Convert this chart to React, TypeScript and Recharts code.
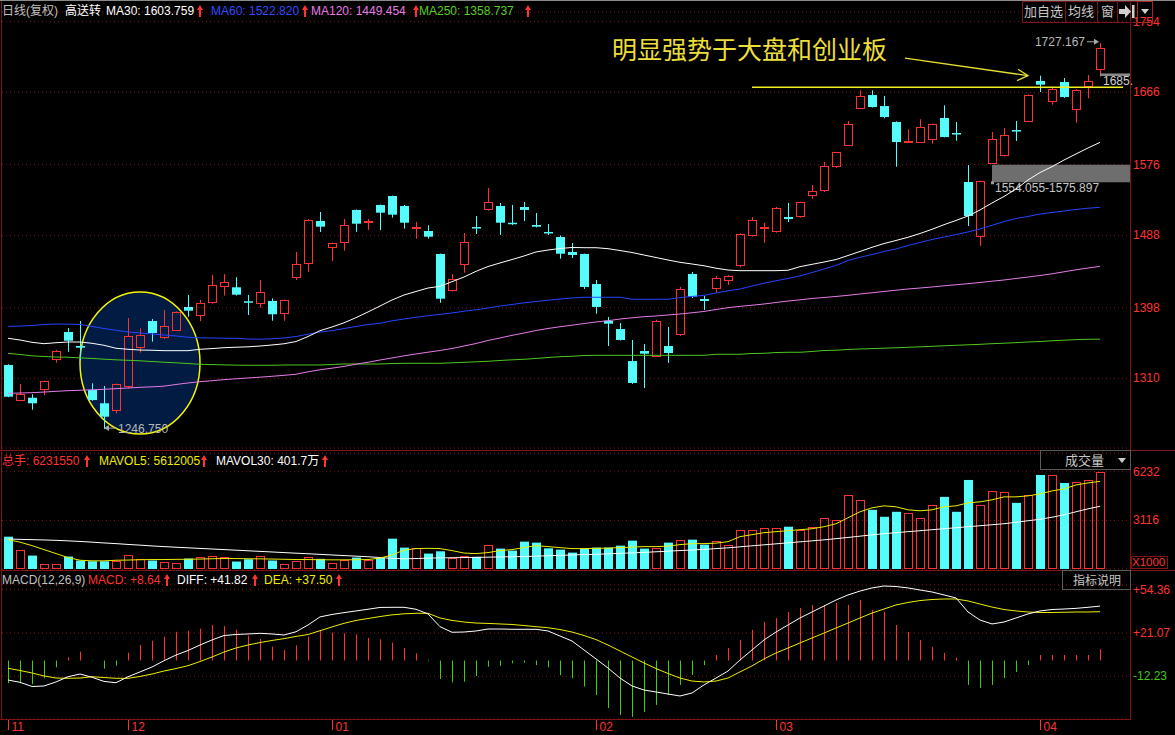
import React from "react";
import {
  ComposedChart,
  Bar,
  Line,
  XAxis,
  YAxis,
  CartesianGrid,
  ReferenceDot,
  ReferenceLine,
  ReferenceArea,
} from "recharts";

// 月份刻度（K线序号）
const monthStarts = [0, 10, 27, 49, 64, 86];
const monthLabels = ["11", "12", "01", "02", "03", "04"];

// 日K线 开高低收
const opens = [
  1326.6, 1282.6, 1285.8, 1295.8, 1333.7, 1367.7, 1350.2, 1295.4, 1278.9, 1269.7,
  1299.5, 1348.1, 1381.3, 1360.5, 1370.5, 1398.8, 1388.0, 1405.0, 1424.1, 1423.3,
  1405.9, 1403.4, 1406.3, 1390.9, 1435.3, 1453.9, 1505.9, 1473.1, 1479.3, 1519.6,
  1504.2, 1525.8, 1537.0, 1524.5, 1497.1, 1493.4, 1464.8, 1419.1, 1452.7, 1498.4,
  1520.4, 1524.5, 1503.7, 1523.3, 1500.9, 1492.2, 1485.9, 1467.3, 1464.8, 1427.4,
  1381.7, 1371.4, 1331.5, 1344.0, 1337.8, 1350.2, 1364.3, 1439.9, 1408.7, 1421.6,
  1432.0, 1451.4, 1487.5, 1497.1, 1492.5, 1510.8, 1511.2, 1537.4, 1544.8, 1573.5,
  1599.6, 1645.7, 1662.7, 1649.0, 1629.1, 1604.2, 1603.8, 1607.6, 1634.1, 1615.4,
  1554.4, 1486.3, 1578.4, 1588.0, 1619.1, 1630.0, 1680.2, 1654.9, 1678.9, 1645.7,
  1673.1, 1694.7,
];
const highs = [
  1327.5, 1302.9, 1290.1, 1307.0, 1345.6, 1372.6, 1381.3, 1303.8, 1300.4, 1303.5,
  1385.1, 1372.2, 1383.8, 1395.0, 1393.3, 1413.7, 1407.5, 1438.6, 1439.8, 1435.8,
  1413.7, 1432.4, 1409.6, 1408.0, 1467.3, 1508.3, 1517.1, 1479.0, 1508.3, 1520.2,
  1508.3, 1526.3, 1537.5, 1525.8, 1504.6, 1500.5, 1465.3, 1439.8, 1490.9, 1512.1,
  1546.9, 1528.3, 1525.8, 1529.5, 1515.8, 1502.1, 1488.0, 1478.4, 1465.3, 1432.4,
  1386.3, 1378.8, 1357.7, 1352.7, 1383.0, 1373.9, 1423.7, 1442.4, 1412.5, 1437.4,
  1438.6, 1490.5, 1510.8, 1503.4, 1523.3, 1528.3, 1530.0, 1550.7, 1579.3, 1592.0,
  1630.4, 1668.6, 1668.6, 1661.5, 1630.0, 1620.0, 1632.5, 1627.0, 1649.9, 1629.1,
  1575.6, 1556.0, 1616.7, 1621.6, 1630.4, 1663.5, 1686.8, 1672.3, 1683.9, 1669.8,
  1687.6, 1727.167,
];
const lows = [
  1286.5, 1281.5, 1270.9, 1289.2, 1329.4, 1343.1, 1332.8, 1282.0, 1246.75, 1266.4,
  1297.5, 1341.9, 1355.6, 1358.9, 1368.9, 1386.7, 1381.3, 1402.9, 1413.0, 1413.0,
  1388.8, 1397.9, 1381.7, 1381.7, 1432.4, 1442.7, 1492.2, 1456.4, 1468.9, 1492.5,
  1494.6, 1494.6, 1510.0, 1496.3, 1483.8, 1483.8, 1404.1, 1418.0, 1441.5, 1489.7,
  1518.7, 1488.4, 1500.9, 1505.8, 1498.0, 1488.4, 1458.9, 1459.8, 1421.2, 1390.4,
  1350.2, 1357.0, 1303.0, 1297.9, 1336.5, 1329.1, 1362.7, 1410.0, 1395.0, 1416.6,
  1426.2, 1448.2, 1486.3, 1478.8, 1491.3, 1504.6, 1510.0, 1533.6, 1541.9, 1572.0,
  1599.0, 1645.0, 1647.0, 1633.7, 1573.5, 1604.0, 1603.0, 1602.1, 1610.0, 1605.8,
  1499.6, 1474.7, 1578.0, 1585.9, 1605.5, 1629.0, 1666.4, 1650.7, 1659.0, 1628.3,
  1658.6, 1685.5,
];
const closes = [
  1287.1, 1290.1, 1278.9, 1306.3, 1343.6, 1356.8, 1348.1, 1282.9, 1262.2, 1302.5,
  1362.3, 1363.5, 1366.4, 1374.7, 1392.6, 1394.2, 1403.4, 1425.8, 1429.5, 1414.1,
  1404.1, 1417.1, 1389.7, 1407.1, 1451.9, 1507.1, 1498.8, 1478.1, 1500.5, 1502.5,
  1505.9, 1516.2, 1513.7, 1503.7, 1498.0, 1486.3, 1409.1, 1433.3, 1479.7, 1497.5,
  1529.1, 1503.7, 1502.5, 1519.6, 1498.8, 1490.9, 1465.1, 1463.5, 1423.7, 1398.8,
  1378.0, 1357.7, 1304.2, 1340.6, 1381.0, 1341.5, 1420.8, 1411.6, 1406.3, 1434.5,
  1437.0, 1489.7, 1506.7, 1498.4, 1521.7, 1508.3, 1529.1, 1542.8, 1574.3, 1591.4,
  1626.3, 1661.1, 1647.8, 1635.3, 1604.2, 1605.5, 1622.5, 1626.3, 1610.4, 1614.5,
  1512.1, 1555.3, 1607.9, 1612.5, 1618.3, 1662.7, 1675.6, 1669.8, 1660.2, 1668.9,
  1679.8, 1720.9,
];

// 均线
const ma30 = [
  1359.8, 1357.7, 1354.8, 1353.1, 1354.3, 1355.2, 1355.2, 1353.6, 1351.1, 1347.4,
  1346.1, 1345.2, 1344.9, 1344.4, 1344.4, 1344.4, 1346.1, 1347.0, 1348.1, 1348.7,
  1349.2, 1350.2, 1351.5, 1353.0, 1355.8, 1362.0, 1369.3, 1373.9, 1379.1, 1385.5,
  1392.6, 1400.0, 1407.5, 1413.7, 1418.1, 1422.4, 1424.5, 1430.3, 1436.1, 1443.2,
  1449.2, 1453.6, 1457.9, 1462.3, 1467.3, 1469.7, 1471.6, 1472.9, 1472.6, 1472.6,
  1471.4, 1469.1, 1466.6, 1463.5, 1460.4, 1457.3, 1454.4, 1452.3, 1450.1, 1447.1,
  1444.8, 1444.0, 1444.0, 1444.0, 1444.0, 1444.5, 1449.0, 1451.9, 1454.8, 1457.9,
  1462.9, 1467.9, 1473.1, 1477.8, 1481.6, 1485.6, 1490.3, 1495.5, 1501.3, 1506.5,
  1512.1, 1519.6, 1528.3, 1536.4, 1545.7, 1556.9, 1566.2, 1573.5, 1581.8, 1589.3,
  1596.8, 1603.759,
];
const ma60 = [
  1374.7, 1375.1, 1375.7, 1377.0, 1377.6, 1377.4, 1377.0, 1374.5, 1372.0, 1369.8,
  1367.7, 1366.4, 1365.2, 1363.9, 1362.7, 1361.1, 1360.4, 1360.2, 1359.9, 1359.8,
  1358.9, 1358.7, 1359.2, 1360.2, 1362.0, 1364.9, 1367.7, 1369.3, 1372.0, 1374.5,
  1377.0, 1378.5, 1381.6, 1383.8, 1386.1, 1387.9, 1389.7, 1391.3, 1393.5, 1395.4,
  1397.5, 1400.0, 1401.9, 1404.0, 1405.6, 1407.2, 1408.7, 1410.0, 1410.9, 1410.9,
  1410.9, 1410.9, 1408.4, 1408.4, 1408.4, 1408.4, 1410.4, 1411.9, 1413.3, 1416.2,
  1418.9, 1421.2, 1424.9, 1428.4, 1431.4, 1434.3, 1437.4, 1441.7, 1446.1, 1450.5,
  1456.7, 1460.7, 1464.1, 1467.9, 1471.0, 1475.4, 1479.1, 1482.8, 1485.9, 1489.0,
  1492.2, 1495.9, 1500.5, 1505.0, 1509.0, 1511.5, 1514.6, 1516.4, 1518.3, 1520.2,
  1521.8, 1522.82,
];
const ma120 = [
  1291.3, 1291.7, 1292.1, 1292.9, 1293.8, 1294.6, 1295.1, 1295.7, 1296.3, 1297.1,
  1297.9, 1298.8, 1299.4, 1300.2, 1302.3, 1304.2, 1305.8, 1307.0, 1308.3, 1309.4,
  1310.4, 1311.4, 1312.5, 1313.7, 1315.0, 1318.1, 1320.6, 1322.6, 1324.8, 1327.6,
  1330.0, 1332.8, 1335.3, 1338.0, 1340.3, 1342.5, 1344.6, 1347.1, 1350.2, 1353.3,
  1357.1, 1360.2, 1363.5, 1366.4, 1369.5, 1372.0, 1374.2, 1376.1, 1378.2, 1380.1,
  1381.7, 1383.8, 1385.3, 1386.7, 1387.6, 1388.8, 1390.1, 1391.6, 1393.2, 1395.7,
  1397.9, 1399.6, 1401.0, 1402.5, 1404.4, 1406.2, 1407.7, 1409.4, 1410.6, 1411.9,
  1413.3, 1415.0, 1416.5, 1418.1, 1419.7, 1421.2, 1422.4, 1423.7, 1425.2, 1426.5,
  1427.8, 1429.3, 1430.9, 1432.4, 1434.3, 1436.1, 1438.0, 1440.1, 1442.6, 1445.1,
  1447.3, 1449.454,
];
const ma250 = [
  1341.1, 1339.6, 1338.0, 1337.1, 1336.5, 1336.2, 1335.5, 1334.7, 1333.8, 1333.0,
  1332.4, 1331.8, 1330.9, 1330.0, 1329.3, 1328.4, 1327.4, 1327.1, 1326.7, 1326.4,
  1326.2, 1326.2, 1326.2, 1326.6, 1326.6, 1326.6, 1326.6, 1327.2, 1327.8, 1327.8,
  1327.8, 1327.8, 1328.4, 1328.7, 1328.7, 1328.7, 1328.7, 1329.3, 1329.9, 1330.5,
  1331.2, 1332.2, 1333.0, 1333.7, 1334.7, 1335.9, 1336.9, 1337.4, 1338.4, 1338.6,
  1338.6, 1338.6, 1338.6, 1338.6, 1338.6, 1338.6, 1338.6, 1338.6, 1338.6, 1339.9,
  1339.9, 1339.9, 1340.9, 1341.1, 1342.1, 1342.4, 1342.4, 1343.4, 1344.6, 1344.9,
  1345.9, 1346.5, 1347.0, 1347.5, 1348.0, 1348.6, 1349.2, 1349.8, 1350.5, 1351.1,
  1351.7, 1352.3, 1353.1, 1353.7, 1354.4, 1355.2, 1355.8, 1356.7, 1357.4, 1358.2,
  1358.6, 1358.737,
];

// 成交量（千手）
const volumes = [
  2071, 1243, 860, 331, 331, 797, 542, 497, 497, 542,
  905, 650, 542, 459, 395, 669, 777, 841, 777, 478,
  624, 841, 542, 331, 542, 797, 650, 395, 605, 733,
  561, 714, 1943, 1370, 1351, 988, 1134, 714, 860, 777,
  1542, 1306, 1179, 1752, 1689, 1325, 1243, 1051, 1306, 1370,
  1370, 1497, 1816, 1306, 1370, 1689, 1880, 1880, 1561, 1816,
  1561, 2517, 2517, 2644, 2644, 2708, 2517, 2708, 3282, 3154,
  4747, 4429, 3791, 3345, 3664, 3600, 3282, 4110, 4620, 3664,
  5703, 4110, 5002, 4938, 4237, 4747, 6022, 6022, 5512, 5576,
  5703, 6231.55,
];
const mavol5 = [
  1880, 1720, 1497, 1243, 988, 733, 561, 523, 523, 561,
  573, 593, 605, 605, 618, 624, 637, 656, 669, 669,
  656, 650, 637, 624, 605, 605, 593, 586, 586, 593,
  605, 701, 892, 1211, 1306, 1325, 1306, 1179, 1020, 988,
  1051, 1179, 1243, 1370, 1497, 1434, 1370, 1306, 1306, 1325,
  1338, 1370, 1402, 1434, 1434, 1466, 1561, 1625, 1625, 1657,
  1752, 2071, 2198, 2326, 2390, 2453, 2517, 2581, 2708, 2899,
  3282, 3664, 3919, 4046, 3983, 3791, 3728, 3791, 3983, 4046,
  4237, 4301, 4429, 4620, 4620, 4683, 4811, 5002, 5129, 5384,
  5512, 5612,
];
const mavol30 = [
  1924, 1899, 1880, 1861, 1835, 1803, 1765, 1720, 1669, 1625,
  1574, 1529, 1478, 1434, 1395, 1357, 1319, 1281, 1243, 1204,
  1166, 1128, 1090, 1051, 1013, 975, 937, 898, 860, 822,
  784, 733, 682, 650, 669, 695, 714, 720, 733, 746,
  758, 771, 784, 797, 822, 847, 873, 898, 924, 943,
  969, 1000, 1032, 1064, 1102, 1141, 1179, 1217, 1255, 1306,
  1357, 1421, 1485, 1548, 1612, 1676, 1740, 1803, 1867, 1943,
  2020, 2103, 2186, 2262, 2326, 2390, 2453, 2517, 2581, 2644,
  2708, 2772, 2836, 2899, 2995, 3090, 3186, 3313, 3473, 3664,
  3855, 4017,
];

// MACD(12,26,9)
const macdHist = [
  -17.5, -17.5, -18.3, -13.7, -5.2, 2.5, 6.8, -0.3, -6.3, -4.0,
  6.0, 11.9, 15.2, 18.3, 22.1, 22.9, 24.5, 27.3, 26.5, 23.5,
  19.1, 16.5, 10.6, 8.1, 11.7, 18.3, 22.9, 21.4, 20.9, 20.1,
  17.3, 16.3, 13.7, 9.6, 5.5, -0.5, -14.2, -16.8, -16.3, -11.9,
  -4.8, -4.2, -2.2, -1.7, -3.5, -5.2, -11.4, -13.7, -20.1, -26.5,
  -36.5, -41.9, -43.4, -39.6, -34.2, -26.5, -18.8, -11.2, -3.5, 4.2,
  9.6, 15.8, 23.5, 29.6, 32.7, 37.3, 40.4, 42.7, 42.7, 44.2,
  42.7, 46.5, 38.8, 37.3, 27.3, 21.9, 15.8, 10.4, 5.8, 1.9,
  -18.8, -21.1, -18.8, -13.5, -8.8, -3.5, 4.2, 4.2, 4.2, 4.2,
  4.2, 8.64,
];
const diffs = [
  -15.0, -16.8, -20.0, -19.6, -16.5, -12.5, -10.4, -12.9, -16.1, -17.1,
  -12.5, -8.8, -5.0, -0.2, 4.2, 7.7, 11.9, 15.8, 19.2, 20.0,
  20.4, 20.9, 20.4, 19.6, 22.1, 27.3, 33.5, 35.4, 36.8, 38.1,
  39.4, 40.8, 40.9, 40.9, 39.4, 35.8, 26.0, 21.7, 21.9, 22.7,
  24.2, 24.2, 24.0, 24.0, 24.0, 22.7, 18.8, 15.0, 8.1, 1.2,
  -5.8, -13.5, -19.6, -22.7, -24.2, -25.8, -27.3, -25.0, -18.8, -13.5,
  -8.1, 0.4, 8.1, 15.8, 21.9, 27.3, 32.7, 37.3, 41.9, 46.5,
  50.4, 53.4, 55.8, 57.3, 56.9, 55.8, 54.2, 52.7, 50.4, 48.1,
  37.3, 31.1, 28.1, 29.6, 32.7, 35.8, 38.1, 39.2, 39.6, 40.1,
  40.9, 41.82,
];
const deas = [
  -6.0, -7.7, -9.6, -11.9, -13.5, -13.7, -13.5, -12.5, -13.1, -13.7,
  -13.7, -12.3, -10.4, -8.1, -6.2, -4.0, -0.8, 2.7, 6.5, 9.6,
  11.9, 13.8, 15.4, 16.8, 18.5, 20.0, 22.9, 25.8, 28.6, 30.8,
  32.3, 33.8, 35.1, 35.9, 36.3, 36.3, 32.7, 30.8, 29.6, 28.8,
  28.5, 28.1, 27.7, 26.9, 26.0, 25.2, 23.8, 21.9, 19.2, 16.1,
  11.9, 7.3, 2.7, -1.9, -6.2, -10.0, -13.5, -15.8, -16.5, -15.8,
  -13.5, -8.8, -4.2, 1.2, 5.8, 9.6, 13.5, 17.3, 21.1, 25.0,
  28.8, 32.7, 36.5, 39.6, 42.7, 44.6, 46.1, 46.9, 47.3, 47.3,
  45.8, 43.4, 41.1, 39.2, 38.1, 37.3, 36.9, 36.9, 37.1, 37.3,
  37.3, 37.5,
];

const priceTicks = [1310, 1398, 1488, 1576, 1666, 1754];
const volTicks = [3116, 6232];
const macdTicks = [-12.23, 21.07, 54.36];

const RED = "#ff3232";
const CYAN = "#54fcfc";
const GREEN = "#46c81a";
const YELLOW = "#f0f020";
const FRAME = "#801414";
const GRID = "#7a1818";
const FONT = "'Liberation Sans', Arial, 'Noto Sans CJK SC', sans-serif";
const CJK = "'Noto Sans CJK SC', sans-serif";

const rows = opens.map((open, i) => ({
  i,
  open,
  high: highs[i],
  low: lows[i],
  close: closes[i],
  ma30: ma30[i],
  ma60: ma60[i],
  ma120: ma120[i],
  ma250: ma250[i],
  vol: volumes[i],
  mavol5: mavol5[i],
  mavol30: mavol30[i],
  macd: macdHist[i],
  diff: diffs[i],
  dea: deas[i],
}));

// K线
const Candle = (props: any) => {
  const { x, y, width, height, payload } = props;
  if (!payload) return null;
  const { open, close, high, low } = payload;
  const top = Math.min(y, y + height);
  const h = Math.abs(height);
  const k = h / (high - low);
  const py = (v: number) => top + (high - v) * k;
  const left = Math.round(x);
  const w = Math.round(width);
  const cx = left + Math.floor(w / 2) + 0.5;
  const bTop = py(Math.max(open, close));
  const bBot = py(Math.min(open, close));
  if (close >= open) {
    const rt = Math.round(bTop) + 0.5;
    const rh = Math.max(Math.round(bBot - bTop), 1);
    return (
      <g>
        <line x1={cx} x2={cx} y1={top} y2={rt} stroke={RED} />
        <line x1={cx} x2={cx} y1={rt + rh} y2={top + h} stroke={RED} />
        <rect x={left + 0.5} y={rt} width={w - 1} height={rh} fill="none" stroke={RED} />
      </g>
    );
  }
  return (
    <g>
      <line x1={cx} x2={cx} y1={top} y2={top + h} stroke={CYAN} />
      <rect x={left} y={bTop} width={w} height={Math.max(bBot - bTop, 1.5)} fill={CYAN} />
    </g>
  );
};

const VolBar = (props: any) => {
  const { x, y, width, height, payload } = props;
  if (!payload) return null;
  const top = Math.min(y, y + height);
  const h = Math.abs(height);
  const left = Math.round(x);
  const w = Math.round(width);
  if (payload.close >= payload.open) {
    return (
      <rect x={left + 0.5} y={Math.round(top) + 0.5} width={w - 1} height={Math.max(Math.round(h) - 1, 1)} fill="none" stroke={RED} />
    );
  }
  return <rect x={left} y={top} width={w} height={h} fill={CYAN} />;
};

const MacdBar = (props: any) => {
  const { x, y, width, height, payload } = props;
  if (!payload) return null;
  const cx = Math.round(x) + Math.floor(Math.round(width) / 2) + 0.5;
  return <line x1={cx} x2={cx} y1={y} y2={y + height} stroke={payload.macd >= 0 ? RED : GREEN} />;
};

const PriceTick = (p: any) => (
  <text x={p.x} y={p.y} dy={4} fill={RED} fontSize={12} fontFamily={FONT}>
    {p.payload.value}
  </text>
);

const MacdTick = (p: any) => {
  const v = p.payload.value;
  return (
    <text x={p.x} y={p.y} dy={4} fill={v < 0 ? GREEN : RED} fontSize={12} fontFamily={FONT}>
      {v > 0 ? "+" + v.toFixed(2) : v.toFixed(2)}
    </text>
  );
};

const MonthTick = (p: any) => {
  const idx = monthStarts.indexOf(p.payload.value);
  const x = Math.round(p.x) + 0.5;
  return (
    <g>
      <line x1={x} x2={x} y1={p.y} y2={p.y + 11} stroke={RED} />
      <text x={x + 3} y={p.y + 12} fill={RED} fontSize={12} fontFamily={FONT}>
        {monthLabels[idx]}
      </text>
    </g>
  );
};

const UpArrow = ({ left, top }: { left: number; top: number }) => (
  <svg style={{ position: "absolute", left, top }} width={6} height={12}>
    <path d="M3 0 L6 5 L4 5 L4 12 L2 12 L2 5 L0 5 Z" fill={RED} />
  </svg>
);

const Txt = ({ left, top, color, size = 12, family = FONT, children }: any) => (
  <div
    style={{
      position: "absolute",
      left,
      top,
      color,
      fontSize: size,
      fontFamily: family,
      lineHeight: "14px",
      whiteSpace: "nowrap",
    }}
  >
    {children}
  </div>
);

const Box = ({ left, top, width, height, border = FRAME, style }: any) => (
  <div
    style={{
      position: "absolute",
      left,
      top,
      width,
      height,
      boxSizing: "border-box",
      border: `1px solid ${border}`,
      ...style,
    }}
  />
);

const HLine = ({ left, top, width, color = FRAME }: any) => (
  <div style={{ position: "absolute", left, top, width, height: 1, background: color }} />
);
const VLine = ({ left, top, height, color = FRAME }: any) => (
  <div style={{ position: "absolute", left, top, width: 1, height, background: color }} />
);

const xPad = { left: 0, right: 24 };

export default function App() {
  return (
    <div
      style={{
        position: "absolute",
        left: 0,
        top: 0,
        width: 1175,
        height: 735,
        background: "#000",
        overflow: "hidden",
      }}
    >
      {/* 主图 */}
      <div style={{ position: "absolute", left: 0, top: 0 }}>
        <ComposedChart width={1175} height={450} data={rows} margin={{ top: 12, right: 0, bottom: 2, left: 2 }}>
          <CartesianGrid horizontal vertical={false} stroke={GRID} strokeDasharray="1 3" />
          <XAxis dataKey="i" hide padding={xPad} />
          <YAxis
            orientation="right"
            width={45}
            domain={[1223.22, 1766.08]}
            allowDataOverflow
            ticks={priceTicks}
            interval={0}
            tickLine={false}
            axisLine={false}
            tickSize={0}
            tickMargin={3}
            tick={<PriceTick />}
          />
          <ReferenceDot
            x={11}
            y={1329}
            zIndex={-50}
            shape={(p: any) => (
              <ellipse cx={p.cx} cy={p.cy} rx={60} ry={71} fill="#011b42" stroke="#f4f400" strokeWidth={1.5} />
            )}
          />
          <ReferenceArea
            x1={82}
            x2={91}
            y1={1554.055}
            y2={1575.897}
            shape={(p: any) => (
              <g>
                <rect x={p.x + 6} y={p.y} width={p.width + 18} height={p.height} fill="#6e6e6e" />
                <rect x={p.x + 5} y={p.y + p.height - 1} width={3} height={3} fill="#9a9a9a" />
                <text x={p.x + 9} y={p.y + p.height + 10} fill="#c8c8c8" fontSize={12} fontFamily={FONT}>
                  1554.055-1575.897
                </text>
              </g>
            )}
          />
          <Bar dataKey={(d: any) => [d.low, d.high]} barSize={9} shape={<Candle />} isAnimationActive={false} />
          <Line dataKey="ma250" stroke="#4cc81c" dot={false} strokeWidth={1} isAnimationActive={false} />
          <Line dataKey="ma120" stroke="#e47ce6" dot={false} strokeWidth={1} isAnimationActive={false} />
          <Line dataKey="ma60" stroke="#2444ff" dot={false} strokeWidth={1} isAnimationActive={false} />
          <Line dataKey="ma30" stroke="#ffffff" dot={false} strokeWidth={1} isAnimationActive={false} />
          <ReferenceLine
            segment={[
              { x: 62, y: 1672.3 },
              { x: 91, y: 1672.3 },
            ]}
            shape={(p: any) => <line x1={p.x1} y1={p.y1} x2={p.x2 + 23} y2={p.y2} stroke={YELLOW} strokeWidth={1.5} />}
          />
          <ReferenceDot
            x={85}
            y={1686.8}
            shape={(p: any) => (
              <g stroke="#e8e030" strokeWidth={1.3} fill="none">
                <line x1={p.cx - 123} y1={p.cy - 17.5} x2={p.cx} y2={p.cy} />
                <polyline points={`${p.cx - 10},${p.cy - 6.5} ${p.cx},${p.cy} ${p.cx - 11},${p.cy + 5}`} />
              </g>
            )}
          />
          <ReferenceDot
            x={8}
            y={1246.75}
            shape={(p: any) => (
              <g>
                <line x1={p.cx + 2} y1={p.cy - 1} x2={p.cx + 13} y2={p.cy - 1} stroke="#a8a8a8" />
                <path d={`M${p.cx} ${p.cy - 1} l5 -3 v6 z`} fill="#a8a8a8" />
                <text x={p.cx + 14} y={p.cy + 4} fill="#b8b8b8" fontSize={12} fontFamily={FONT}>
                  1246.750
                </text>
              </g>
            )}
          />
          <ReferenceDot
            x={91}
            y={1727.167}
            shape={(p: any) => (
              <g>
                <text x={p.cx - 15} y={p.cy + 3} textAnchor="end" fill="#b8b8b8" fontSize={12} fontFamily={FONT}>
                  1727.167
                </text>
                <line x1={p.cx - 13} y1={p.cy - 1.5} x2={p.cx - 3} y2={p.cy - 1.5} stroke="#a8a8a8" />
                <path d={`M${p.cx - 1} ${p.cy - 1.5} l-5 -3 v6 z`} fill="#a8a8a8" />
              </g>
            )}
          />
          <ReferenceDot
            x={91}
            y={1685.5}
            shape={(p: any) => (
              <g>
                <line x1={p.cx} y1={p.cy - 2} x2={p.cx + 30} y2={p.cy - 2} stroke="#8a8a8a" strokeWidth={2.5} />
                <text x={p.cx + 3} y={p.cy + 8.5} fill="#d0d0d0" fontSize={12} fontFamily={FONT}>
                  1685.
                </text>
              </g>
            )}
          />
        </ComposedChart>
      </div>

      {/* 成交量 */}
      <div style={{ position: "absolute", left: 0, top: 450 }}>
        <ComposedChart width={1175} height={120} data={rows} margin={{ top: 3, right: 0, bottom: 1, left: 2 }}>
          <CartesianGrid horizontal vertical={false} stroke={GRID} strokeDasharray="1 3" />
          <XAxis dataKey="i" hide padding={xPad} />
          <YAxis
            orientation="right"
            width={45}
            domain={[0, 7430]}
            allowDataOverflow
            ticks={volTicks}
            interval={0}
            tickLine={false}
            axisLine={false}
            tickSize={0}
            tickMargin={3}
            tick={<PriceTick />}
          />
          <Bar dataKey="vol" barSize={9} shape={<VolBar />} isAnimationActive={false} />
          <Line dataKey="mavol30" stroke="#ffffff" dot={false} strokeWidth={1} isAnimationActive={false} />
          <Line dataKey="mavol5" stroke="#eeee00" dot={false} strokeWidth={1} isAnimationActive={false} />
        </ComposedChart>
      </div>

      {/* MACD */}
      <div style={{ position: "absolute", left: 0, top: 570 }}>
        <ComposedChart width={1175} height={165} data={rows} margin={{ top: 15, right: 0, bottom: 0, left: 2 }}>
          <CartesianGrid horizontal vertical={false} stroke={GRID} strokeDasharray="1 3" />
          <XAxis
            dataKey="i"
            padding={xPad}
            ticks={monthStarts}
            interval={0}
            height={16}
            tickLine={false}
            axisLine={false}
            tickSize={0}
            tickMargin={0}
            tick={<MonthTick />}
          />
          <YAxis
            orientation="right"
            width={45}
            domain={[-45.0, 58.06]}
            allowDataOverflow
            ticks={macdTicks}
            interval={0}
            tickLine={false}
            axisLine={false}
            tickSize={0}
            tickMargin={3}
            tick={<MacdTick />}
          />
          <Bar dataKey="macd" barSize={9} shape={<MacdBar />} isAnimationActive={false} />
          <Line dataKey="dea" stroke="#eeee00" dot={false} strokeWidth={1} isAnimationActive={false} />
          <Line dataKey="diff" stroke="#ffffff" dot={false} strokeWidth={1} isAnimationActive={false} />
        </ComposedChart>
      </div>

      {/* 边框 */}
      <HLine left={0} top={0} width={1175} color="#8a8a8a" />
      <VLine left={1} top={1} height={718} />
      <VLine left={1130} top={1} height={718} />
      <HLine left={0} top={450} width={1175} />
      <HLine left={0} top={570} width={1175} />
      <HLine left={0} top={719} width={1131} />

      {/* 主图标题 */}
      <Txt left={2} top={4} color="#c0c0c0">日线(复权)</Txt>
      <Txt left={65} top={4} color="#ffffff">高送转</Txt>
      <Txt left={106} top={4} color="#ffffff">MA30: 1603.759</Txt>
      <UpArrow left={197} top={5} />
      <Txt left={211} top={4} color="#2f4dff">MA60: 1522.820</Txt>
      <UpArrow left={302} top={5} />
      <Txt left={311} top={4} color="#e47ce6">MA120: 1449.454</Txt>
      <UpArrow left={413} top={5} />
      <Txt left={419} top={4} color="#52d020">MA250: 1358.737</Txt>
      <UpArrow left={525} top={5} />

      {/* 右上按钮 */}
      <Box left={1022} top={1} width={116} height={22} />
      <VLine left={1065} top={1} height={22} />
      <VLine left={1097} top={1} height={22} />
      <VLine left={1117} top={1} height={22} />
      <Box left={1137} top={1} width={16} height={22} border="#b02020" />
      <Txt left={1024} top={4} color="#c8c8c8" size={13} family={CJK}>加自选</Txt>
      <Txt left={1068} top={4} color="#c8c8c8" size={13} family={CJK}>均线</Txt>
      <Txt left={1101} top={4} color="#c8c8c8" size={13} family={CJK}>窗</Txt>
      <svg style={{ position: "absolute", left: 1119, top: 5 }} width={17} height={13}>
        <path d="M0 4 L6 4 L6 0 L12 6.5 L6 13 L6 9 L0 9 Z" fill="#d0d0d0" />
        <rect x={13} y={0} width={2.5} height={13} fill="#d0d0d0" />
      </svg>
      <svg style={{ position: "absolute", left: 1141, top: 9 }} width={9} height={5}>
        <path d="M0 0 L8 0 L4 5 Z" fill="#d0d0d0" />
      </svg>

      {/* 标注 */}
      <div
        style={{
          position: "absolute",
          left: 612,
          top: 35,
          color: "#ecdf3c",
          fontSize: 25,
          lineHeight: "27px",
          fontFamily: CJK,
          whiteSpace: "nowrap",
        }}
      >
        明显强势于大盘和创业板
      </div>

      {/* 成交量标题 */}
      <Txt left={2} top={454} color={RED}>总手: 6231550</Txt>
      <UpArrow left={84} top={455} />
      <Txt left={99} top={454} color="#eeee00">MAVOL5: 5612005</Txt>
      <UpArrow left={201} top={455} />
      <Txt left={216} top={454} color="#ffffff">MAVOL30: 401.7万</Txt>
      <UpArrow left={322} top={455} />
      <Box left={1040} top={450} width={91} height={20} border="#5a5a5a" />
      <Txt left={1065} top={453} color="#c8c8c8" size={13} family={CJK}>成交量</Txt>
      <svg style={{ position: "absolute", left: 1118, top: 458 }} width={9} height={5}>
        <path d="M0 0 L8 0 L4 5 Z" fill="#c8c8c8" />
      </svg>
      <Box left={1131} top={556} width={37} height={13} />
      <Txt left={1132} top={555} color={RED} size={11.5}>X1000</Txt>

      {/* MACD标题 */}
      <Txt left={2} top={573} color="#c0c0c0">MACD(12,26,9)</Txt>
      <Txt left={88} top={573} color={RED}>MACD: +8.64</Txt>
      <UpArrow left={164} top={574} />
      <Txt left={177} top={573} color="#ffffff">DIFF: +41.82</Txt>
      <UpArrow left={252} top={574} />
      <Txt left={264} top={573} color="#eeee00">DEA: +37.50</Txt>
      <UpArrow left={336} top={574} />
      <Box left={1062} top={570} width={69} height={20} border="#5a5a5a" />
      <Txt left={1073} top={573} color="#c8c8c8" size={12} family={CJK}>指标说明</Txt>
    </div>
  );
}
